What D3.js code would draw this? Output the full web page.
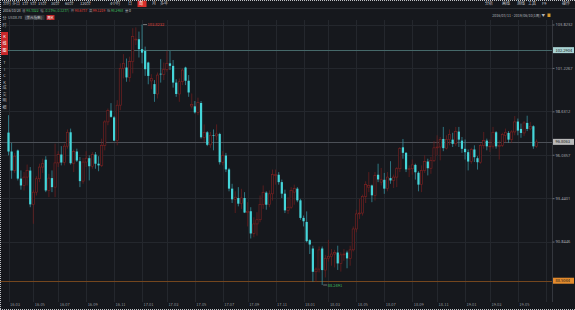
<!DOCTYPE html>
<html>
<head>
<meta charset="utf-8">
<script src="https://cdn.jsdelivr.net/npm/d3@7"></script>
<style>
  html, body { margin: 0; padding: 0; background: #16181d; overflow: hidden; }
  svg { display: block; font-family: "Noto Sans CJK SC", "Noto Sans", sans-serif; }
</style>
</head>
<body>
<svg id="chart" width="575" height="310"></svg>
<script>
// weekly USDX candles, 2016/03/11 .. 2019/06/10 (index = week)
const open = [
  97.36, 96.23, 95.09, 96.29, 94.61, 94.20, 94.70, 95.09, 93.07, 93.80,
  94.60, 95.30, 95.74, 93.90, 94.64, 94.10, 95.55, 96.05, 95.57, 96.55,
  97.38, 95.53, 96.23, 95.65, 94.46, 95.60, 95.83, 95.35, 96.05, 95.50,
  95.40, 96.60, 98.00, 98.6737, 98.27, 96.88, 99.00, 101.20, 101.25, 100.66,
  101.60, 102.90, 102.94, 102.35, 102.24, 101.55, 100.45, 100.26, 99.67, 100.88,
  100.84, 101.12, 101.50, 101.35, 100.35, 99.67, 100.40, 101.25, 100.46, 98.95,
  98.93, 98.57, 99.13, 97.08, 97.38, 96.63, 97.20, 97.16, 97.28, 95.59,
  95.99, 95.16, 94.01, 93.37, 93.45, 93.11, 93.45, 92.58, 92.66, 91.33,
  91.90, 92.15, 93.05, 93.77, 93.05, 93.70, 94.80, 94.84, 94.40, 93.71,
  92.71, 92.90, 93.80, 94.01, 93.31, 92.26, 92.02, 90.93, 90.43, 89.04,
  89.20, 90.43, 89.14, 89.85, 89.95, 90.10, 90.19, 89.54, 90.05, 90.19,
  89.84, 90.35, 91.60, 92.50, 92.55, 93.55, 94.10, 94.20, 93.61, 94.84,
  94.40, 94.54, 94.01, 94.64, 94.50, 94.70, 95.20, 96.48, 96.15, 95.16,
  95.20, 95.43, 94.96, 94.25, 95.10, 95.63, 95.23, 95.70, 96.45, 96.50,
  96.98, 96.43, 96.95, 96.94, 96.69, 97.42, 96.88, 96.39, 96.19, 95.63,
  96.35, 95.83, 95.59, 96.60, 96.88, 96.54, 96.55, 97.38, 96.54, 96.60,
  97.20, 97.34, 96.94, 97.40, 98.02, 97.58, 97.34, 97.94, 97.58, 97.74,
  96.54
];
const high = [
  98.40, 96.75, 96.15, 96.35, 95.10, 95.00, 95.45, 95.30, 93.95, 94.75,
  95.50, 95.80, 95.95, 94.90, 95.10, 96.70, 96.25, 96.55, 96.70, 97.55,
  97.60, 96.35, 96.40, 95.90, 95.85, 96.25, 96.00, 96.20, 96.20, 95.95,
  97.00, 98.10, 98.80, 99.1219, 98.35, 99.30, 101.50, 102.05, 101.79, 101.90,
  103.60, 103.65, 103.40, 103.8232, 102.50, 101.60, 100.85, 100.50, 100.95, 101.75,
  101.55, 102.25, 102.24, 101.70, 100.55, 100.60, 101.20, 101.30, 100.80, 99.70,
  99.25, 99.45, 99.25, 97.85, 97.45, 97.40, 97.55, 97.85, 97.35, 96.25,
  96.15, 95.25, 94.30, 93.85, 94.10, 94.00, 93.80, 93.20, 92.90, 92.30,
  92.60, 93.60, 94.20, 93.85, 93.90, 95.15, 95.15, 95.00, 94.55, 93.95,
  93.50, 94.10, 94.25, 94.10, 93.40, 92.40, 92.65, 91.00, 90.60, 89.30,
  90.55, 90.55, 90.05, 90.95, 90.40, 90.35, 90.60, 90.20, 90.40, 90.30,
  90.60, 91.75, 92.75, 93.40, 93.65, 94.45, 95.00, 94.25, 95.00, 95.50,
  95.25, 94.95, 95.00, 95.65, 94.85, 95.30, 96.50, 96.98, 96.20, 95.40,
  95.75, 95.50, 95.05, 95.40, 96.00, 95.80, 95.90, 96.85, 97.20, 97.10,
  97.70, 97.20, 97.55, 97.35, 97.70, 97.70, 97.10, 96.95, 96.35, 96.45,
  96.60, 95.95, 96.70, 97.40, 97.00, 96.95, 97.70, 97.45, 96.90, 97.35,
  97.60, 97.45, 97.50, 98.35, 98.20, 97.90, 98.05, 98.37, 98.00, 97.80,
  96.95
];
const low = [
  96.00, 94.60, 94.95, 94.50, 93.95, 93.90, 94.20, 92.90, 91.91, 93.60,
  94.40, 94.95, 93.80, 93.50, 93.80, 93.50, 95.30, 95.40, 95.40, 96.40,
  95.45, 95.00, 95.60, 94.10, 94.30, 95.30, 94.50, 95.20, 95.20, 95.05,
  95.30, 96.30, 97.80, 98.2468, 96.85, 96.60, 98.70, 100.60, 100.40, 100.40,
  100.90, 102.60, 101.85, 101.50, 100.75, 100.25, 99.95, 99.20, 99.40, 100.35,
  100.50, 101.00, 101.10, 100.05, 99.50, 99.20, 100.20, 100.20, 99.50, 98.80,
  98.50, 98.40, 97.00, 96.80, 96.55, 96.45, 96.30, 96.90, 95.45, 95.40,
  95.00, 93.85, 93.15, 92.55, 92.95, 92.80, 92.55, 91.75, 91.03, 91.10,
  91.20, 92.00, 92.80, 92.75, 92.90, 93.30, 94.25, 94.25, 93.45, 92.55,
  92.50, 92.80, 93.05, 93.20, 92.15, 91.75, 90.80, 90.10, 88.45, 88.45,
  89.00, 88.2491, 88.70, 89.65, 89.40, 89.30, 89.15, 89.05, 89.70, 89.25,
  89.40, 90.25, 91.40, 92.20, 92.40, 93.15, 93.80, 93.20, 93.30, 94.40,
  94.20, 93.70, 93.85, 94.30, 94.05, 94.10, 95.00, 95.80, 95.00, 94.70,
  94.85, 94.55, 93.85, 93.80, 94.95, 94.80, 94.90, 95.60, 96.00, 95.70,
  96.25, 96.35, 96.60, 96.50, 96.55, 96.50, 96.15, 95.75, 95.10, 95.50,
  95.60, 95.15, 95.50, 96.40, 96.30, 96.20, 96.40, 96.40, 95.75, 96.50,
  96.80, 96.75, 96.75, 97.20, 97.20, 97.05, 97.15, 97.45, 97.50, 96.39,
  96.45
];
const close = [
  96.23, 95.09, 95.95, 94.61, 94.20, 94.70, 95.09, 93.07, 93.80, 94.60,
  95.30, 95.50, 93.90, 94.64, 94.10, 95.55, 96.05, 95.57, 96.55, 97.38,
  95.53, 96.23, 95.69, 94.46, 95.60, 95.83, 95.35, 96.05, 95.50, 95.40,
  96.60, 98.00, 98.67, 98.3022, 96.88, 99.00, 101.20, 101.50, 100.66, 101.60,
  103.10, 102.95, 102.35, 102.14, 101.15, 100.75, 100.60, 99.67, 100.80, 100.84,
  101.12, 101.50, 101.35, 100.35, 99.67, 100.40, 101.10, 100.46, 99.76, 99.05,
  98.57, 99.15, 97.08, 97.38, 96.63, 97.20, 97.16, 97.28, 95.59, 95.99,
  95.16, 94.01, 93.37, 93.50, 93.11, 93.45, 92.58, 92.66, 91.33, 91.90,
  92.15, 93.05, 93.77, 93.05, 93.70, 94.85, 94.84, 94.40, 93.71, 92.71,
  92.90, 93.90, 94.01, 93.31, 92.26, 92.06, 90.87, 90.67, 89.04, 89.20,
  90.35, 89.14, 89.85, 89.95, 90.10, 90.19, 89.54, 90.05, 90.10, 89.84,
  90.35, 91.60, 92.50, 92.55, 93.55, 94.25, 94.20, 93.61, 94.80, 94.56,
  94.54, 94.01, 94.70, 94.50, 94.70, 95.20, 96.40, 96.15, 95.16, 95.20,
  95.43, 94.99, 94.25, 95.10, 95.63, 95.23, 95.70, 96.45, 96.50, 96.95,
  96.43, 96.95, 97.25, 96.69, 97.42, 96.94, 96.39, 96.19, 95.63, 96.35,
  95.89, 95.59, 96.60, 96.88, 96.54, 96.55, 97.38, 96.54, 96.60, 97.25,
  97.38, 96.94, 97.40, 98.00, 97.48, 97.34, 97.94, 97.58, 97.74, 96.54,
  96.8063
];

// x axis: week index of the first candle of every second month
const monthIdx = [0, 8, 16, 25, 34, 43, 51, 60, 69, 77, 86, 95, 103, 112, 121, 130, 138, 147, 155, 164, 173];
const monthLabels = ["16.03", "16.05", "16.07", "16.09", "16.11", "17.01", "17.03", "17.05", "17.07", "17.09",
  "17.11", "18.01", "18.03", "18.05", "18.07", "18.09", "18.11", "19.01", "19.03", "19.05", ""];

// y axis ticks (lowest one is hidden under the orange line label)
const yTicks = [88.2491, 90.8446, 93.4401, 96.0357, 98.6312, 101.2267, 103.8232];
// drawn horizontal lines: alert line, last price, alert line
const refValues = [102.2904, 96.8063, 88.5044];

const tabs = ["分时", "多日", "1分", "5分", "15分", "30分", "60分", "120分", "4小时", "日", "周", "月", "多年"];
const tools = ["分析", "画线", "测线", "工具", "F9", "操作"];
const sideTabs = ["分时", "K线图", "TICK", "成交明细"];

const svg = d3.select("#chart");
const W = 575, H = 310, axisX = 552;

const x = d3.scaleLinear().domain([0, open.length - 1]).range([8.5, 536.5]);
const y = d3.scaleLinear().domain(d3.extent(yTicks)).range([285, 24.5]);

svg.append("rect").attr("width", W).attr("height", H).attr("fill", "#16181d");

// grid
svg.append("g")
  .selectAll("line")
  .data(yTicks.slice(1))
  .join("line")
  .attr("x1", 0).attr("x2", axisX)
  .attr("y1", d => Math.round(y(d)) + 0.5).attr("y2", d => Math.round(y(d)) + 0.5)
  .attr("stroke", "#24272d").attr("stroke-width", 1);

svg.append("g")
  .selectAll("line")
  .data(monthIdx)
  .join("line")
  .attr("x1", d => Math.round(x(d)) + 0.5).attr("x2", d => Math.round(x(d)) + 0.5)
  .attr("y1", 20).attr("y2", 302)
  .attr("stroke", "#24272d").attr("stroke-width", 1);

svg.append("g")
  .selectAll("text")
  .data(monthIdx)
  .join("text")
  .attr("x", d => x(d) + 1.5)
  .attr("y", 305.5)
  .attr("font-size", 4)
  .attr("fill", "#8c8f95")
  .text((d, i) => monthLabels[i]);

// reference lines
const refColors = ["#46696a", "#4c5057", "#74461e"];
const refBg = ["#a9d3d3", "#b9b9b9", "#e48b2d"];
svg.append("g")
  .selectAll("line")
  .data(refValues)
  .join("line")
  .attr("x1", 0).attr("x2", axisX)
  .attr("y1", d => Math.round(y(d)) + 0.5).attr("y2", d => Math.round(y(d)) + 0.5)
  .attr("stroke", (d, i) => refColors[i]).attr("stroke-width", 1);

// candles
const idx = d3.range(open.length);
const up = i => close[i] >= open[i];

const candles = svg.append("g");
candles.selectAll("line")
  .data(idx)
  .join("line")
  .attr("x1", i => x(i)).attr("x2", i => x(i))
  .attr("y1", i => y(high[i])).attr("y2", i => y(low[i]))
  .attr("stroke", i => up(i) ? "#742020" : "#3a9fae")
  .attr("stroke-width", 0.7);

candles.selectAll("rect")
  .data(idx)
  .join("rect")
  .attr("x", i => x(i) - 1.1)
  .attr("width", 2.2)
  .attr("y", i => y(Math.max(open[i], close[i])))
  .attr("height", i => Math.max(0.7, Math.abs(y(open[i]) - y(close[i]))))
  .attr("fill", i => up(i) ? "#16181d" : "#45d6da")
  .attr("stroke", i => up(i) ? "#822222" : "none")
  .attr("stroke-width", 0.6);

// high / low markers
const hi = d3.maxIndex(high), lo = d3.minIndex(low);
svg.append("line")
  .attr("x1", x(hi) + 1).attr("x2", x(hi) + 5)
  .attr("y1", y(high[hi])).attr("y2", y(high[hi]))
  .attr("stroke", "#c8c8c8").attr("stroke-width", 0.5);
svg.append("text")
  .attr("x", x(hi) + 5.5).attr("y", y(high[hi]) + 1.5)
  .attr("font-size", 4).attr("fill", "#e0443c")
  .text(high[hi].toFixed(4));
svg.append("line")
  .attr("x1", x(lo) + 1).attr("x2", x(lo) + 5)
  .attr("y1", y(low[lo])).attr("y2", y(low[lo]))
  .attr("stroke", "#c8c8c8").attr("stroke-width", 0.5);
svg.append("text")
  .attr("x", x(lo) + 5.5).attr("y", y(low[lo]) + 1.5)
  .attr("font-size", 4).attr("fill", "#3fbf5f")
  .text(low[lo].toFixed(4));

// right axis
svg.append("rect").attr("x", axisX).attr("y", 20).attr("width", W - axisX).attr("height", 290).attr("fill", "#16181d");
svg.append("line")
  .attr("x1", axisX + 0.5).attr("x2", axisX + 0.5).attr("y1", 20).attr("y2", 302)
  .attr("stroke", "#34373e");

const yAxis = svg.append("g")
  .attr("transform", `translate(${axisX + 0.5},0)`)
  .call(d3.axisRight(y).tickValues(yTicks.slice(1)).tickSize(2).tickFormat(d3.format(".4f")));
yAxis.select(".domain").remove();
yAxis.selectAll("line").attr("stroke", "#6a6d73");
yAxis.selectAll("text")
  .attr("x", 3).attr("font-size", 4).attr("fill", "#a4a7ad")
  .attr("font-family", "\"Noto Sans\", sans-serif");

const refLab = svg.append("g").selectAll("g").data(refValues).join("g")
  .attr("transform", d => `translate(${axisX + 1},${y(d)})`);
refLab.append("rect")
  .attr("x", 0).attr("y", -3).attr("width", 21).attr("height", 6)
  .attr("fill", (d, i) => refBg[i]);
refLab.append("text")
  .attr("x", 2.5).attr("y", 1.5).attr("font-size", 4).attr("fill", "#1b1b1b")
  .text(d => d.toFixed(4));

// header rows
const head = svg.append("g").attr("font-size", 4);
const tabX = [3, 12, 22, 30, 38, 51, 65, 80, 110, 128, 139, 152, 160];
head.append("rect").attr("x", 137.5).attr("y", 0.5).attr("width", 9).attr("height", 6.5).attr("fill", "#d8302c");
head.selectAll(".tab").data(tabs).join("text")
  .attr("class", "tab")
  .attr("x", (d, i) => tabX[i]).attr("y", 5.2)
  .attr("fill", (d, i) => i === 10 ? "#fff" : "#c4c6cb")
  .text(d => d);
const toolX = [485, 502, 517, 528, 542, 562];
head.selectAll(".tool").data(tools).join("text")
  .attr("class", "tool")
  .attr("x", (d, i) => toolX[i]).attr("y", 5.2)
  .attr("fill", "#c4c6cb")
  .text(d => d);
svg.append("line").attr("x1", 0).attr("x2", W).attr("y1", 8.5).attr("y2", 8.5).attr("stroke", "#2a2d33");

// quote row, laid out one after another
const info = [
  ["2016/10/28", "#c4c6cb", 1.6], ["收", "#9a9da3", 0.6], ["98.3022", "#3fbf5f", 1.8],
  ["幅", "#9a9da3", 0.6], ["-0.13%(-0.1237)", "#3fbf5f", 1.8], ["开", "#9a9da3", 0.6],
  ["98.6737", "#e0443c", 1.8], ["高", "#9a9da3", 0.6], ["99.1219", "#e0443c", 1.8],
  ["低", "#9a9da3", 0.6], ["98.2468", "#3fbf5f", 1.8], ["量", "#9a9da3", 0.6], ["0", "#c4c6cb", 0]
];
let cx = 3;
info.forEach(d => {
  const t = head.append("text").attr("x", cx).attr("y", 12).attr("font-size", 3.4)
    .attr("fill", d[1]).text(d[0]);
  cx += t.node().getComputedTextLength() + d[2];
});

head.append("text").attr("x", 8).attr("y", 18.5).attr("font-size", 3.6).attr("fill", "#b0b3b8").text("USDX.FX");
head.append("rect").attr("x", 24.5).attr("y", 15).attr("width", 20).attr("height", 5).attr("fill", "#2e3137");
head.append("text").attr("x", 25.3).attr("y", 18.7).attr("font-size", 3.6).attr("fill", "#c4c6cb").text("(美元指数)");
head.append("rect").attr("x", 46.5).attr("y", 15).attr("width", 8).attr("height", 5).attr("fill", "#c0282a");
head.append("text").attr("x", 47.3).attr("y", 18.7).attr("font-size", 3.6).attr("fill", "#fff").text("周K");

head.append("text").attr("x", 545).attr("y", 16.5).attr("text-anchor", "end").attr("font-size", 3.6)
  .attr("fill", "#b0b3b8").text("2016/03/11 - 2019/06/10(1周) ▼");
head.append("rect").attr("x", 547.5).attr("y", 13.5).attr("width", 3).attr("height", 3.5).attr("fill", "#d79a2c");

// left vertical tabs
const side = svg.append("g").attr("font-size", 4).attr("text-anchor", "middle");
side.append("rect").attr("x", 1).attr("y", 32).attr("width", 7).attr("height", 23).attr("fill", "#c8282a");
const sideStart = [20, 38, 64, 89];
sideTabs.forEach((t, k) => {
  Array.from(t).forEach((ch, j) => {
    side.append("text")
      .attr("x", 4.5).attr("y", sideStart[k] + j * (k === 1 ? 7 : 6.5))
      .attr("fill", k === 1 ? "#fff" : "#b5b8bd")
      .text(ch);
  });
});

// dotted frame of the screenshot
const ants = svg.append("g").attr("stroke", "#bfc1c5").attr("stroke-dasharray", "1,1").attr("stroke-width", 1);
ants.append("line").attr("x1", 0).attr("x2", W).attr("y1", 0.5).attr("y2", 0.5);
ants.append("line").attr("x1", 0.5).attr("x2", 0.5).attr("y1", 0).attr("y2", H);
ants.append("line").attr("x1", 0).attr("x2", W).attr("y1", H - 0.5).attr("y2", H - 0.5);
</script>
</body>
</html>
